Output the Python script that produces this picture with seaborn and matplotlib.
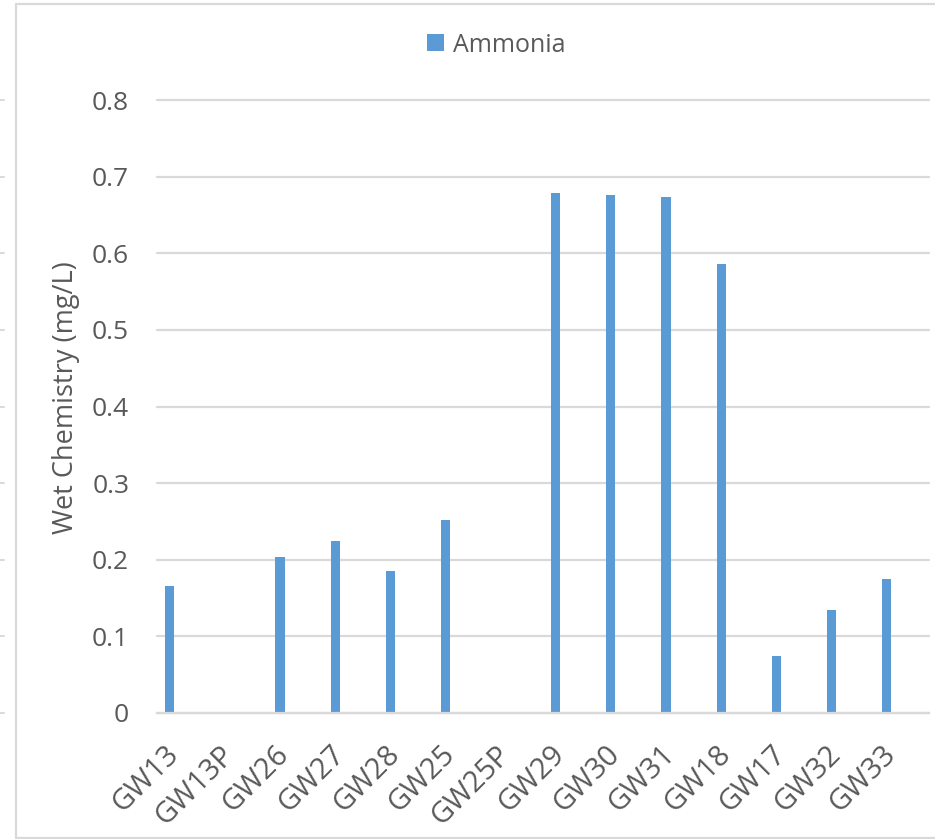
import matplotlib
matplotlib.use("Agg")
import matplotlib.pyplot as plt
from matplotlib.lines import Line2D
from matplotlib.patches import Patch
from matplotlib.transforms import ScaledTranslation
import seaborn as sns
import pandas as pd
import numpy as np

# Ammonia results per groundwater sample
wells = ["GW13", "GW13P", "GW26", "GW27", "GW28", "GW25", "GW25P",
         "GW29", "GW30", "GW31", "GW18", "GW17", "GW32", "GW33"]
ammonia = [0.166, np.nan, 0.204, 0.224, 0.185, 0.252, np.nan,
           0.678, 0.676, 0.673, 0.586, 0.074, 0.134, 0.175]
y_ticks = [0.0, 0.1, 0.2, 0.3, 0.4, 0.5, 0.6, 0.7, 0.8]
y_tick_labels = ["0", "0.1", "0.2", "0.3", "0.4", "0.5", "0.6", "0.7", "0.8"]

df = pd.DataFrame({"Well": wells, "Ammonia": ammonia})

sns.set_theme(style="white")
plt.rcParams["font.family"] = ["Open Sans", "DejaVu Sans"]

BAR = "#5B9BD5"
GRID = "#D9D9D9"
TEXT = "#595959"
W, H = 935, 839

fig = plt.figure(figsize=(W / 100, H / 100), dpi=100)
ax = fig.add_axes([157 / W, 1 - 713 / H, (929 - 157) / W, (713 - 100) / H])

sns.barplot(data=df, x="Well", y="Ammonia", color=BAR, width=0.165,
            saturation=1, ax=ax, order=wells)

# bars sit in the left half of each category slot
for p in ax.patches:
    p.set_x(p.get_x() - 0.27)
    p.set_linewidth(0)

ax.set_xlim(-0.5, len(wells) - 0.5)
ax.set_ylim(0, 0.8)
ax.set_yticks(y_ticks)
ax.set_yticklabels(y_tick_labels)
ax.yaxis.grid(True, color=GRID, linewidth=1.6)
for gl in ax.yaxis.get_gridlines():
    gl.set_clip_on(False)
ax.set_axisbelow(True)
for s in ["top", "right", "left"]:
    ax.spines[s].set_visible(False)
ax.spines["bottom"].set_color(GRID)
ax.spines["bottom"].set_linewidth(1.6)

ax.tick_params(axis="both", length=0, colors=TEXT)
ax.tick_params(axis="y", pad=20, labelsize=19)
ax.tick_params(axis="x", pad=27)
shift = ScaledTranslation(-10 / 100, 0, fig.dpi_scale_trans)
for lbl in ax.get_xticklabels():
    lbl.set_fontsize(21)
    lbl.set_rotation(45)
    lbl.set_ha("right")
    lbl.set_va("center")
    lbl.set_rotation_mode("anchor")
    lbl.set_transform(lbl.get_transform() + shift)

ax.set_xlabel("")
ax.set_ylabel("Wet Chemistry (mg/L)", color=TEXT, fontsize=19.5)
ax.yaxis.set_label_coords((80 - 157) / 772, (713 - 398) / 613)

handle = Patch(facecolor=BAR, edgecolor="none")
leg = fig.legend([handle], ["Ammonia"], loc="center", bbox_to_anchor=(496 / W, 1 - 45 / H),
                 frameon=False, fontsize=18, handlelength=0.68, handleheight=0.68,
                 handletextpad=0.34, labelcolor=TEXT, borderpad=0, borderaxespad=0)

# outer chart frame
fig.add_artist(Line2D([16 / W, 16 / W], [1 - 4 / H, 1 - 838 / H], color=GRID, lw=1.6,
                      transform=fig.transFigure))
fig.add_artist(Line2D([16 / W, 1], [1 - 4 / H, 1 - 4 / H], color=GRID, lw=1.6,
                      transform=fig.transFigure))
fig.add_artist(Line2D([16 / W, 1], [1 - 838 / H, 1 - 838 / H], color=GRID, lw=1.6,
                      transform=fig.transFigure))
for yv in y_ticks:
    ypix = 713 - yv / 0.8 * (713 - 100)
    fig.add_artist(Line2D([0, 4 / W], [1 - ypix / H, 1 - ypix / H], color=GRID, lw=1.4,
                          transform=fig.transFigure))

fig.savefig("out.png", dpi=100, facecolor="white")
